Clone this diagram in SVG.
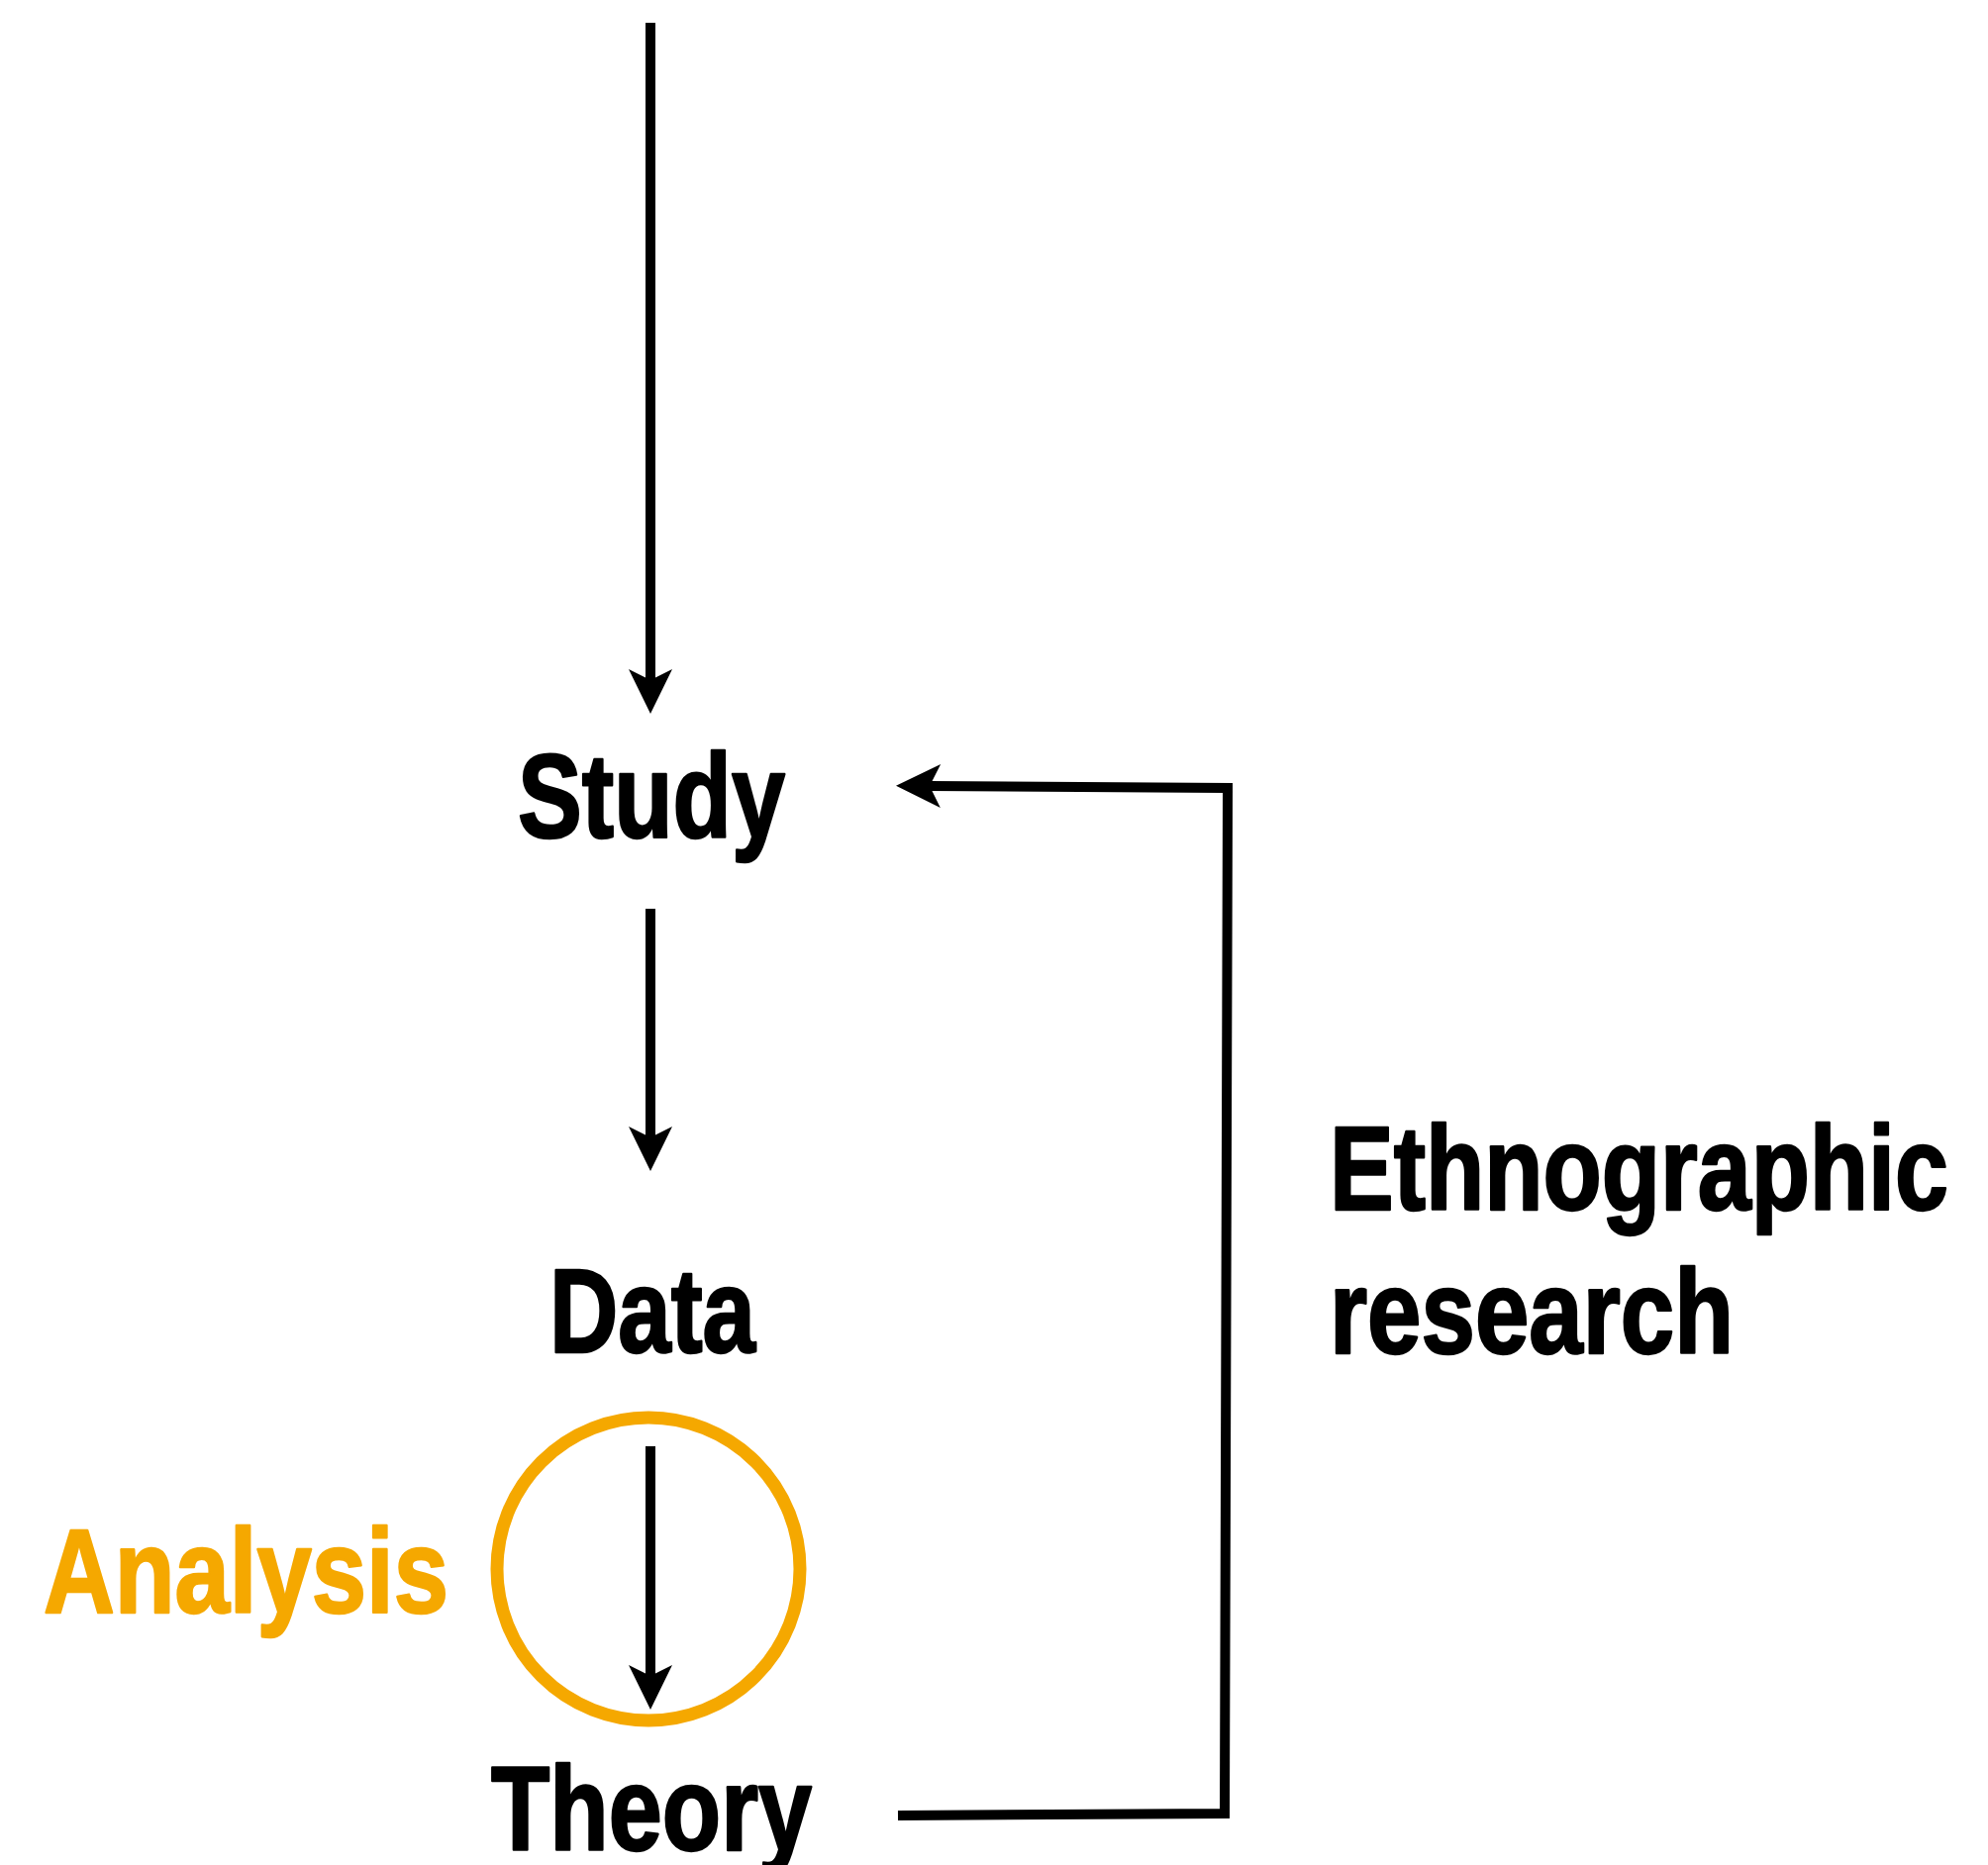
<svg xmlns="http://www.w3.org/2000/svg" width="2008" height="1884" viewBox="0 0 2008 1884">
  <style>
    .lbl { font-family: "Liberation Sans Narrow", "Liberation Sans", Arial, sans-serif; font-weight: bold; font-size: 120px; fill: #000; stroke: #000; stroke-width: 2.5; stroke-linejoin: round; }
    .orange { fill: #F5A800; stroke: #F5A800; }
    .conn { fill: none; stroke: #000; stroke-width: 10; marker-end: url(#arrow); }
  </style>
  <defs>
    <marker id="arrow" markerUnits="userSpaceOnUse" viewBox="-48 -26 52 52" markerWidth="52" markerHeight="52" refX="-34" refY="0" orient="auto">
      <path d="M0,0 L-45,-22 L-34,0 L-45,22 Z" fill="#000"/>
    </marker>
  </defs>
  <rect width="2008" height="1884" fill="#fff"/>

  <g id="connectors">
    <line class="conn" x1="657" y1="23" x2="657" y2="687"/>
    <line class="conn" x1="657" y1="918" x2="657" y2="1149"/>
    <line class="conn" x1="657" y1="1461" x2="657" y2="1693"/>
    <polyline class="conn" points="907,1834 1237,1832 1240,796 939,794"/>
  </g>

  <g id="analysis-circle">
    <circle cx="655" cy="1585" r="153" fill="none" stroke="#F5A800" stroke-width="13"/>
  </g>

  <g id="node-study">
    <text class="lbl" x="523" y="846" textLength="270" lengthAdjust="spacingAndGlyphs">Study</text>
  </g>
  <g id="node-data">
    <text class="lbl" x="555" y="1366" textLength="208" lengthAdjust="spacingAndGlyphs">Data</text>
  </g>
  <g id="node-theory">
    <text class="lbl" x="496" y="1869" textLength="324" lengthAdjust="spacingAndGlyphs">Theory</text>
  </g>
  <g id="label-analysis">
    <text class="lbl orange" x="44" y="1629" textLength="409" lengthAdjust="spacingAndGlyphs">Analysis</text>
  </g>
  <g id="label-ethnographic">
    <text class="lbl" x="1343" y="1222" textLength="625" lengthAdjust="spacingAndGlyphs">Ethnographic</text>
    <text class="lbl" x="1343" y="1367" textLength="408" lengthAdjust="spacingAndGlyphs">research</text>
  </g>
</svg>
